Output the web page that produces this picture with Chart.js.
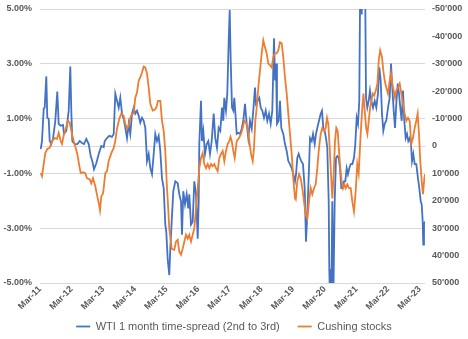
<!DOCTYPE html>
<html>
<head>
<meta charset="utf-8">
<script src="https://cdn.jsdelivr.net/npm/chart.js@4/dist/chart.umd.min.js"></script>
<style>
	html, body { margin: 0; padding: 0; background: #fff; }
	#chart { display: block; }
</style>
</head>
<body>
<canvas id="chart" width="468" height="339"></canvas>
<script>
// months counted from Mar-11
var tickLabels = ['Mar-11', 'Mar-12', 'Mar-13', 'Mar-14', 'Mar-15', 'Mar-16', 'Mar-17',
	'Mar-18', 'Mar-19', 'Mar-20', 'Mar-21', 'Mar-22', 'Mar-23'];

// WTI 1 month time-spread (2nd to 3rd), in %
var spreadMonths = [
	0.27, 0.76, 1.40, 1.78, 2.39, 2.77, 3.30, 3.68, 4.28, 4.93,
	5.80, 6.56, 7.09, 7.85, 8.72, 9.10, 9.97, 10.88, 11.49, 11.87,
	12.25, 13.16, 14.14, 15.05, 15.93, 16.68, 17.56, 18.47, 19.23, 19.83,
	20.48, 21.35, 22.37, 23.25, 24.16, 24.54, 25.41, 26.28, 27.30, 27.95,
	28.55, 29.20, 29.84, 30.45, 31.10, 31.74, 32.35, 32.99, 33.64, 34.24,
	34.89, 35.53, 36.14, 36.78, 37.43, 38.03, 38.68, 39.32, 39.93, 40.58,
	41.22, 41.83, 42.47, 43.12, 43.72, 44.37, 45.01, 45.62, 46.26, 46.91,
	47.51, 47.89, 48.42, 49.03, 49.41, 49.94, 50.55, 51.31, 52.22, 52.82,
	53.47, 53.85, 54.34, 54.99, 55.63, 56.24, 56.62, 57.26, 57.91, 58.51,
	59.16, 59.80, 60.18, 60.41, 61.05, 61.43, 61.93, 62.57, 63.21, 63.82,
	64.46, 65.11, 65.87, 66.47, 67.12, 67.76, 68.37, 69.01, 69.51, 69.89,
	70.53, 71.03, 71.56, 71.94, 72.32, 72.81, 73.30, 73.68, 74.21, 74.59,
	75.20, 75.84, 76.49, 77.09, 77.74, 78.38, 78.99, 79.63, 80.28, 80.88,
	81.53, 81.91, 82.55, 83.16, 83.69, 84.30, 84.94, 85.59, 86.19, 86.84,
	87.48, 88.09, 88.74, 89.12, 89.50, 89.87, 90.52, 91.01, 91.50, 92.26,
	92.90, 93.55, 94.16, 94.80, 95.45, 96.05, 96.70, 97.10, 97.57, 98.10,
	98.60, 99.09, 99.73, 100.38, 100.87, 101.37, 102.01, 102.39, 103.03, 103.53,
	104.17, 104.66, 105.16, 105.80, 106.45, 106.94, 107.43, 107.96, 108.46, 108.95,
	109.48, 109.71, 109.97, 110.47, 110.85, 111.23, 111.76, 112.25, 112.74, 113.27,
	113.77, 114.26, 114.79, 115.28, 115.77, 116.30, 116.79, 117.29, 117.82, 118.43,
	119.07, 119.56, 120.09, 120.59, 121.08, 121.46, 121.99, 122.49, 123.25, 123.63,
	124.12, 124.65, 125.14, 125.64, 126.28, 126.92, 127.53, 128.17, 128.67, 129.20,
	129.69, 130.19, 130.72, 131.32, 131.97, 132.61, 133.11, 133.60, 134.13, 134.62,
	135.12, 135.65, 136.14, 136.63, 137.16, 137.66, 138.15, 138.68, 139.17, 139.67,
	140.20, 140.69, 141.07, 141.56, 142.09, 142.70, 143.34, 143.84, 144.37, 144.75,
	145.13, 145.35, 145.62, 146.00
];
var spreadValues = [
	-0.11, 0.18, 1.36, 1.40, 2.54, 1.03, 0.99, 0.18, 0.07, 0.26,
	0.92, 1.99, 0.81, 0.74, 0.77, 0.44, 0.55, 1.29, 2.90, 1.29,
	0.18, 0.07, 0.07, 0.18, 0.11, 0.07, 0.26, 0.07, -0.37, -0.55,
	-0.85, -0.63, -0.26, 0.00, -0.04, 0.18, 0.29, 0.37, 0.33, 0.44,
	1.91, 1.65, 1.40, 1.76, 1.18, 0.99, 0.66, 0.29, 0.81, 0.44,
	1.18, 1.40, 1.18, 1.29, 1.10, 0.85, 1.03, 0.92, 0.66, -0.55,
	-0.29, -0.81, -1.03, -0.29, 0.44, 0.18, 0.37, -0.18, -1.18, -1.54,
	-2.87, -3.13, -4.12, -4.71, -3.75, -2.76, -1.65, -1.29, -1.36, -1.76,
	-2.02, -3.24, -1.65, -2.13, -1.76, -2.28, -1.76, -2.87, -2.76, -1.29,
	-1.76, -3.38, -2.02, 0.07, 1.65, 0.18, 0.55, -0.29, 0.07, 0.18,
	-0.29, 0.18, 1.18, 0.29, -0.07, 0.66, 0.55, 1.40, 0.92, 1.76,
	1.29, 1.91, 3.86, 4.96, 3.13, 1.40, 1.29, 1.76, 1.03, 0.44,
	0.48, 0.44, 0.63, 0.92, 1.54, 0.81, 0.29, 0.92, 0.63, 1.29,
	2.13, 1.54, 1.65, 1.76, 1.40, 1.29, 1.03, 1.29, 0.92, 1.18,
	0.81, 1.29, 3.93, 2.39, 3.01, 0.81, 0.92, 1.65, 0.66, 0.44,
	0.07, -0.18, -0.55, -0.66, -0.81, -1.03, -1.29, -1.03, -0.44, -0.29,
	-0.44, -0.55, -0.66, -1.54, -3.49, -2.50, -0.81, 0.29, 0.18, 0.44,
	0.07, 0.44, 0.66, 0.92, 1.18, 1.29, 0.66, 0.55, 0.29, -0.07,
	-2.02, -4.49, -5.70, -5.70, -2.02, -5.70, -2.02, -0.44, -0.37, -0.44,
	-0.81, -1.54, -1.54, -1.29, -1.29, -0.81, -1.03, -0.81, -0.66, -0.66,
	-0.44, 0.07, 1.03, 0.81, 1.65, 6.50, 4.80, 6.50, 6.50, 1.76,
	1.40, 1.65, 2.02, 1.65, 1.40, 1.65, 1.40, 1.91, 2.87, 2.39,
	1.18, 0.55, 0.81, 0.92, 1.40, 1.76, 3.01, 2.13, 1.29, 0.66,
	1.54, 2.28, 1.91, 1.40, 0.92, 2.02, 0.92, 0.29, 0.44, 0.18,
	0.29, 0.07, -0.55, -0.29, -0.66, -0.66, -1.18, -1.54, -2.02, -2.13,
	-2.76, -3.60, -2.87, -2.76
];

// Cushing stocks (secondary axis, inverted)
var stockMonths = [
	0.27, 0.76, 1.40, 2.01, 2.77, 3.68, 4.55, 5.57, 6.45, 7.09,
	7.85, 8.34, 9.10, 9.75, 10.62, 11.26, 11.87, 12.78, 13.54, 14.14,
	14.79, 15.43, 16.31, 17.18, 17.82, 18.85, 19.45, 20.10, 20.97, 21.73,
	22.37, 22.75, 23.25, 23.89, 24.16, 24.54, 24.77, 25.41, 26.05, 27.04,
	27.95, 28.55, 29.20, 30.07, 30.83, 31.74, 32.35, 32.99, 33.64, 34.24,
	34.89, 35.53, 36.14, 36.78, 37.43, 38.03, 38.68, 39.32, 39.93, 40.58,
	41.22, 41.83, 42.74, 43.50, 44.10, 44.75, 45.62, 46.26, 46.91, 47.51,
	48.16, 48.54, 49.03, 49.94, 50.93, 51.57, 52.22, 52.82, 53.47, 54.11,
	54.72, 55.36, 56.01, 56.62, 57.26, 57.91, 58.51, 59.16, 59.80, 60.41,
	61.05, 61.70, 62.30, 62.95, 63.59, 64.20, 64.84, 65.49, 66.10, 66.74,
	67.38, 67.99, 68.64, 69.28, 69.89, 70.53, 71.18, 71.78, 72.24, 72.70,
	73.30, 73.83, 74.59, 75.46, 76.22, 76.87, 77.47, 78.12, 78.76, 79.37,
	80.02, 80.66, 81.15, 81.65, 82.18, 82.78, 83.43, 84.07, 84.68, 85.32,
	85.97, 86.57, 87.22, 87.86, 88.47, 89.12, 89.76, 90.37, 91.01, 91.66,
	92.26, 92.90, 93.55, 94.16, 94.80, 95.45, 96.05, 96.70, 97.00, 97.57,
	98.22, 98.86, 99.47, 100.11, 100.76, 101.37, 102.01, 102.66, 103.26, 103.91,
	104.55, 105.16, 105.80, 106.45, 107.05, 107.70, 108.34, 108.83, 109.33, 109.86,
	110.35, 110.85, 111.38, 111.87, 112.36, 112.89, 113.39, 113.88, 114.41, 114.90,
	115.39, 115.93, 116.53, 117.18, 117.82, 118.43, 119.07, 119.71, 120.32, 120.85,
	121.61, 122.15, 122.64, 123.14, 123.67, 124.16, 124.66, 125.19, 125.69, 126.18,
	126.72, 127.32, 127.96, 128.46, 128.99, 129.69, 130.18, 130.71, 131.32, 131.96,
	132.61, 133.10, 133.60, 134.13, 134.62, 135.11, 135.76, 136.40, 137.01, 137.65,
	138.30, 138.91, 139.55, 140.19, 140.80, 141.44, 142.09, 142.70, 143.22, 143.72,
	144.21, 144.75, 145.24, 145.73, 146.00
];
var stockValues = [
	9900, 11000, 6600, 2600, 1100, 700, -1800, -2900, -2600, -4800,
	-1800, -700, -4400, -6300, -9200, -8500, -5500, -1800, 700, 2900,
	6600, 9900, 9600, 9900, 11800, 12100, 13600, 11800, 14700, 18400,
	21300, 23500, 18400, 17300, 15400, 11800, 9900, 9200, 5500, 2600,
	700, -1800, -6300, -9900, -11800, -11000, -8100, -6300, -7400, -10300,
	-11800, -11800, -17600, -19500, -23900, -25000, -26800, -29000, -28700, -26500,
	-21300, -15400, -12900, -13200, -14000, -16500, -16500, -9200, -5500, 1800,
	15400, 21300, 30100, 37500, 37900, 34900, 34200, 38600, 39700, 37500,
	34900, 32400, 33800, 32400, 34900, 32400, 30100, 22800, 15400, 8100,
	4400, 2600, 6600, 8100, 6600, 8100, 6600, 7400, 6600, 8100,
	9200, 4400, 2900, 1800, 5500, 1800, -700, -1800, -3300, -1800,
	1800, 4400, -1800, -2900, -4400, -6600, -9200, -8500, -6600, -1800,
	2900, 5500, 700, -9200, -14000, -21300, -27600, -33800, -38600, -36000,
	-33800, -30100, -29400, -28700, -32400, -33800, -33800, -34900, -37900, -37500,
	-32400, -25000, -19100, -11800, -4400, 2900, 11800, 19100, 19500, 12900,
	10300, 11800, 15400, 20200, 25000, 26500, 20200, 15400, 17600, 15400,
	14000, 8100, 700, -4400, -6600, -5500, -6600, -10300, -8100, 700,
	10300, 19100, 10300, -1800, -6600, -5500, 1800, 8100, 12900, 15400,
	14000, 15400, 14000, 15400, 15400, 20200, 23900, 16500, 6600, 9900,
	-4400, -12900, -19100, -12900, -6600, -4400, -9200, -14000, -16500, -19100,
	-18400, -20200, -22800, -31300, -34900, -32400, -27600, -23900, -21300, -19100,
	-23900, -26500, -22800, -20200, -17600, -20200, -21300, -22800, -19100, -15400,
	-11800, -9200, -10300, -9200, -700, -2900, -6600, -9200, -11800, -4400,
	5500, 12900, 17600, 11800, 10300
];

var labelColor = '#595959';
var gridColor = '#d9d9d9';

function toPoints(xs, ys) {
	var pts = [];
	for (var i = 0; i < xs.length; i++) pts.push({ x: xs[i], y: ys[i] });
	return pts;
}

function formatStock(v) {
	if (v === 0) return '0';
	return (v < 0 ? '-' : '') + Math.abs(v / 1000) + "'000";
}

// fixed axis widths, no extra padding for the end labels
function fixWidth(w) {
	return function (scale) {
		scale.width = w;
		scale.paddingTop = 0;
		scale.paddingBottom = 0;
	};
}

Chart.defaults.font.family = '"Liberation Sans", Arial, sans-serif';
Chart.defaults.color = labelColor;

var tickFont = { size: 9, weight: 'bold' };

new Chart(document.getElementById('chart'), {
	type: 'line',
	data: {
		datasets: [
			{
				label: 'WTI 1 month time-spread (2nd to 3rd)',
				data: toPoints(spreadMonths, spreadValues),
				borderColor: '#4472c4',
				backgroundColor: '#4472c4',
				borderWidth: 1.8,
				pointRadius: 0,
				pointStyle: 'line',
				yAxisID: 'y',
				order: 2
			},
			{
				label: 'Cushing stocks',
				data: toPoints(stockMonths, stockValues),
				borderColor: '#ed7d31',
				backgroundColor: '#ed7d31',
				borderWidth: 1.8,
				pointRadius: 0,
				pointStyle: 'line',
				yAxisID: 'y2',
				order: 1
			}
		]
	},
	options: {
		responsive: false,
		animation: false,
		devicePixelRatio: 1,
		layout: { padding: { top: 9, bottom: -3, left: 0, right: 0 } },
		plugins: {
			tooltip: { enabled: false },
			legend: {
				position: 'bottom',
				labels: {
					usePointStyle: true,
					pointStyleWidth: 14,
					padding: 18,
					color: labelColor,
					font: { size: 11 },
					sort: function (a, b) { return a.datasetIndex - b.datasetIndex; }
				}
			}
		},
		scales: {
			x: {
				type: 'linear',
				min: 0,
				max: 146,
				grid: { display: false },
				border: { display: false },
				ticks: {
					stepSize: 12,
					includeBounds: false,
					autoSkip: false,
					minRotation: 45,
					maxRotation: 45,
					padding: -7,
					font: tickFont,
					callback: function (v) { return tickLabels[v / 12]; }
				},
				afterFit: function (scale) {
					// rotated labels run down into the legend band, so keep them unclipped
					scale.height = 20;
					scale.paddingLeft = 0;
					scale.paddingRight = 0;
					scale._computeLabelArea = function () { return undefined; };
				}
			},
			y: {
				position: 'left',
				min: -5,
				max: 5,
				border: { display: false },
				grid: { color: gridColor, drawTicks: false },
				ticks: {
					stepSize: 2,
					padding: 8,
					font: tickFont,
					callback: function (v) { return v === 0 ? '' : v.toFixed(2) + '%'; }
				},
				afterBuildTicks: function (scale) {
					scale.ticks.push({ value: 0 });
					scale.ticks.sort(function (a, b) { return a.value - b.value; });
				},
				afterFit: fixWidth(40)
			},
			y2: {
				position: 'right',
				reverse: true,
				min: -50000,
				max: 50000,
				border: { display: false },
				grid: { drawOnChartArea: false, drawTicks: false },
				ticks: {
					stepSize: 10000,
					padding: 7,
					font: tickFont,
					callback: function (v) { return formatStock(v); }
				},
				afterFit: fixWidth(43)
			}
		}
	}
});
</script>
</body>
</html>
